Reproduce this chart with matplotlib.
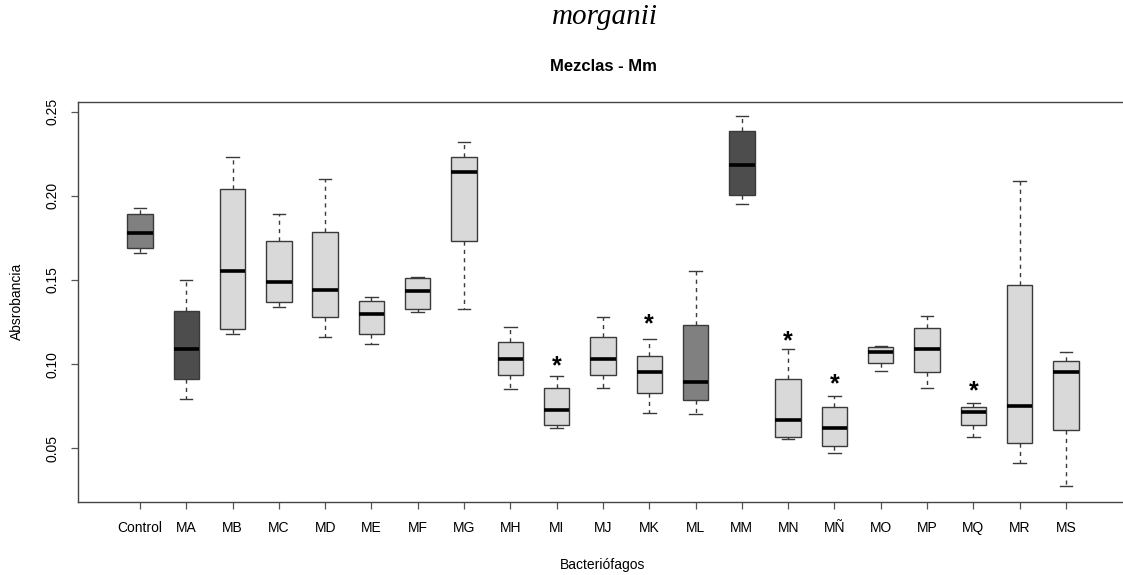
import matplotlib
matplotlib.use("Agg")
import matplotlib.pyplot as plt

# datos (absorbancia)
grupos = ["Control", "MA", "MB", "MC", "MD", "ME", "MF", "MG", "MH", "MI", "MJ",
          "MK", "ML", "MM", "MN", "MÑ", "MO", "MP", "MQ", "MR", "MS"]
bigote_inf = [0.1660, 0.0793, 0.1181, 0.1340, 0.1160, 0.1120, 0.1312, 0.1328, 0.0852, 0.0619, 0.0860,
              0.0712, 0.0702, 0.1952, 0.0553, 0.0472, 0.0961, 0.0860, 0.0569, 0.0411, 0.0274]
q1 = [0.1688, 0.0914, 0.1209, 0.1367, 0.1278, 0.1179, 0.1328, 0.1732, 0.0934, 0.0640, 0.0934,
      0.0830, 0.0787, 0.2007, 0.0569, 0.0514, 0.1005, 0.0951, 0.0640, 0.0531, 0.0607]
mediana = [0.1781, 0.1090, 0.1552, 0.1486, 0.1439, 0.1296, 0.1433, 0.2140, 0.1029, 0.0728, 0.1029,
           0.0951, 0.0896, 0.2181, 0.0668, 0.0619, 0.1072, 0.1090, 0.0717, 0.0750, 0.0951]
q3 = [0.1890, 0.1318, 0.2043, 0.1734, 0.1787, 0.1377, 0.1514, 0.2231, 0.1132, 0.0858, 0.1160,
      0.1050, 0.1234, 0.2383, 0.0914, 0.0743, 0.1100, 0.1213, 0.0743, 0.1472, 0.1017]
bigote_sup = [0.1930, 0.1498, 0.2231, 0.1892, 0.2098, 0.1399, 0.1520, 0.2318, 0.1219, 0.0930, 0.1278,
              0.1148, 0.1552, 0.2473, 0.1088, 0.0811, 0.1108, 0.1288, 0.0771, 0.2090, 0.1070]
colores = ["#808080", "#4D4D4D"] + ["#D9D9D9"] * 10 + ["#808080", "#4D4D4D"] + ["#D9D9D9"] * 7

# asteriscos de significancia
sig_grupos = ["MI", "MK", "MN", "MÑ", "MQ"]
sig_y = [0.1014, 0.1266, 0.1163, 0.0910, 0.0866]

plt.rcParams['font.family'] = ['Liberation Sans', 'DejaVu Sans']

W, H = 1123, 575
fig = plt.figure(figsize=(W / 100, H / 100), dpi=100)
x0, x1, y0, y1 = 77.9, 1128, 101.7, 502
ax = fig.add_axes([x0 / W, 1 - y1 / H, (x1 - x0) / W, (y1 - y0) / H])

stats = []
for i, g in enumerate(grupos):
    stats.append(dict(label=g, whislo=bigote_inf[i], q1=q1[i], med=mediana[i],
                      q3=q3[i], whishi=bigote_sup[i], fliers=[]))

pos = list(range(1, len(grupos) + 1))
bp = ax.bxp(stats, positions=pos, widths=0.55, patch_artist=True, showfliers=False,
            boxprops=dict(edgecolor="#3a3a3a", linewidth=1.0),
            whiskerprops=dict(color="#3a3a3a", linestyle=(0, (3, 3)), linewidth=1.0),
            capprops=dict(color="#3a3a3a", linewidth=1.0),
            medianprops=dict(color="black", linewidth=2.6, solid_capstyle="butt"),
            capwidths=0.27)
for patch, c in zip(bp['boxes'], colores):
    patch.set_facecolor(c)

# el "*" queda alto en su caja de texto, se baja un poco
for g, y in zip(sig_grupos, sig_y):
    ax.text(grupos.index(g) + 1, y - 0.0028, "*", ha="center", va="center", fontsize=18,
            fontweight="bold")

ax.set_xlim(-0.34, 22.34)
ax.set_ylim(0.0181, 0.2559)
ax.set_yticks([0.05, 0.10, 0.15, 0.20, 0.25])
ax.set_yticklabels(["0.05", "0.10", "0.15", "0.20", "0.25"], rotation=90, va="center")
ax.set_xticks(pos)
ax.set_xticklabels(grupos)
ax.tick_params(axis="both", length=5, width=0.9, color="#555555", labelsize=10)
ax.tick_params(axis="x", pad=9)
ax.tick_params(axis="y", pad=8)
for s in ax.spines.values():
    s.set_color("#444444")
    s.set_linewidth(1.0)

fig.text(17 / W, 1 - 301.8 / H, "Absrobancia", rotation=90,
         ha="center", va="center", fontsize=10)
fig.text(603 / W, 1 - 565 / H, "Bacteriófagos", ha="center", va="center", fontsize=10)
fig.text(603 / W, 1 - 67 / H, "Mezclas - Mm", ha="center", va="center",
         fontsize=12, fontweight="bold")
fig.text(605 / W, 1 - 17 / H, "morganii", ha="center", va="center", fontsize=21,
         family="Liberation Serif", style="italic")

fig.savefig("out.png", dpi=100)
